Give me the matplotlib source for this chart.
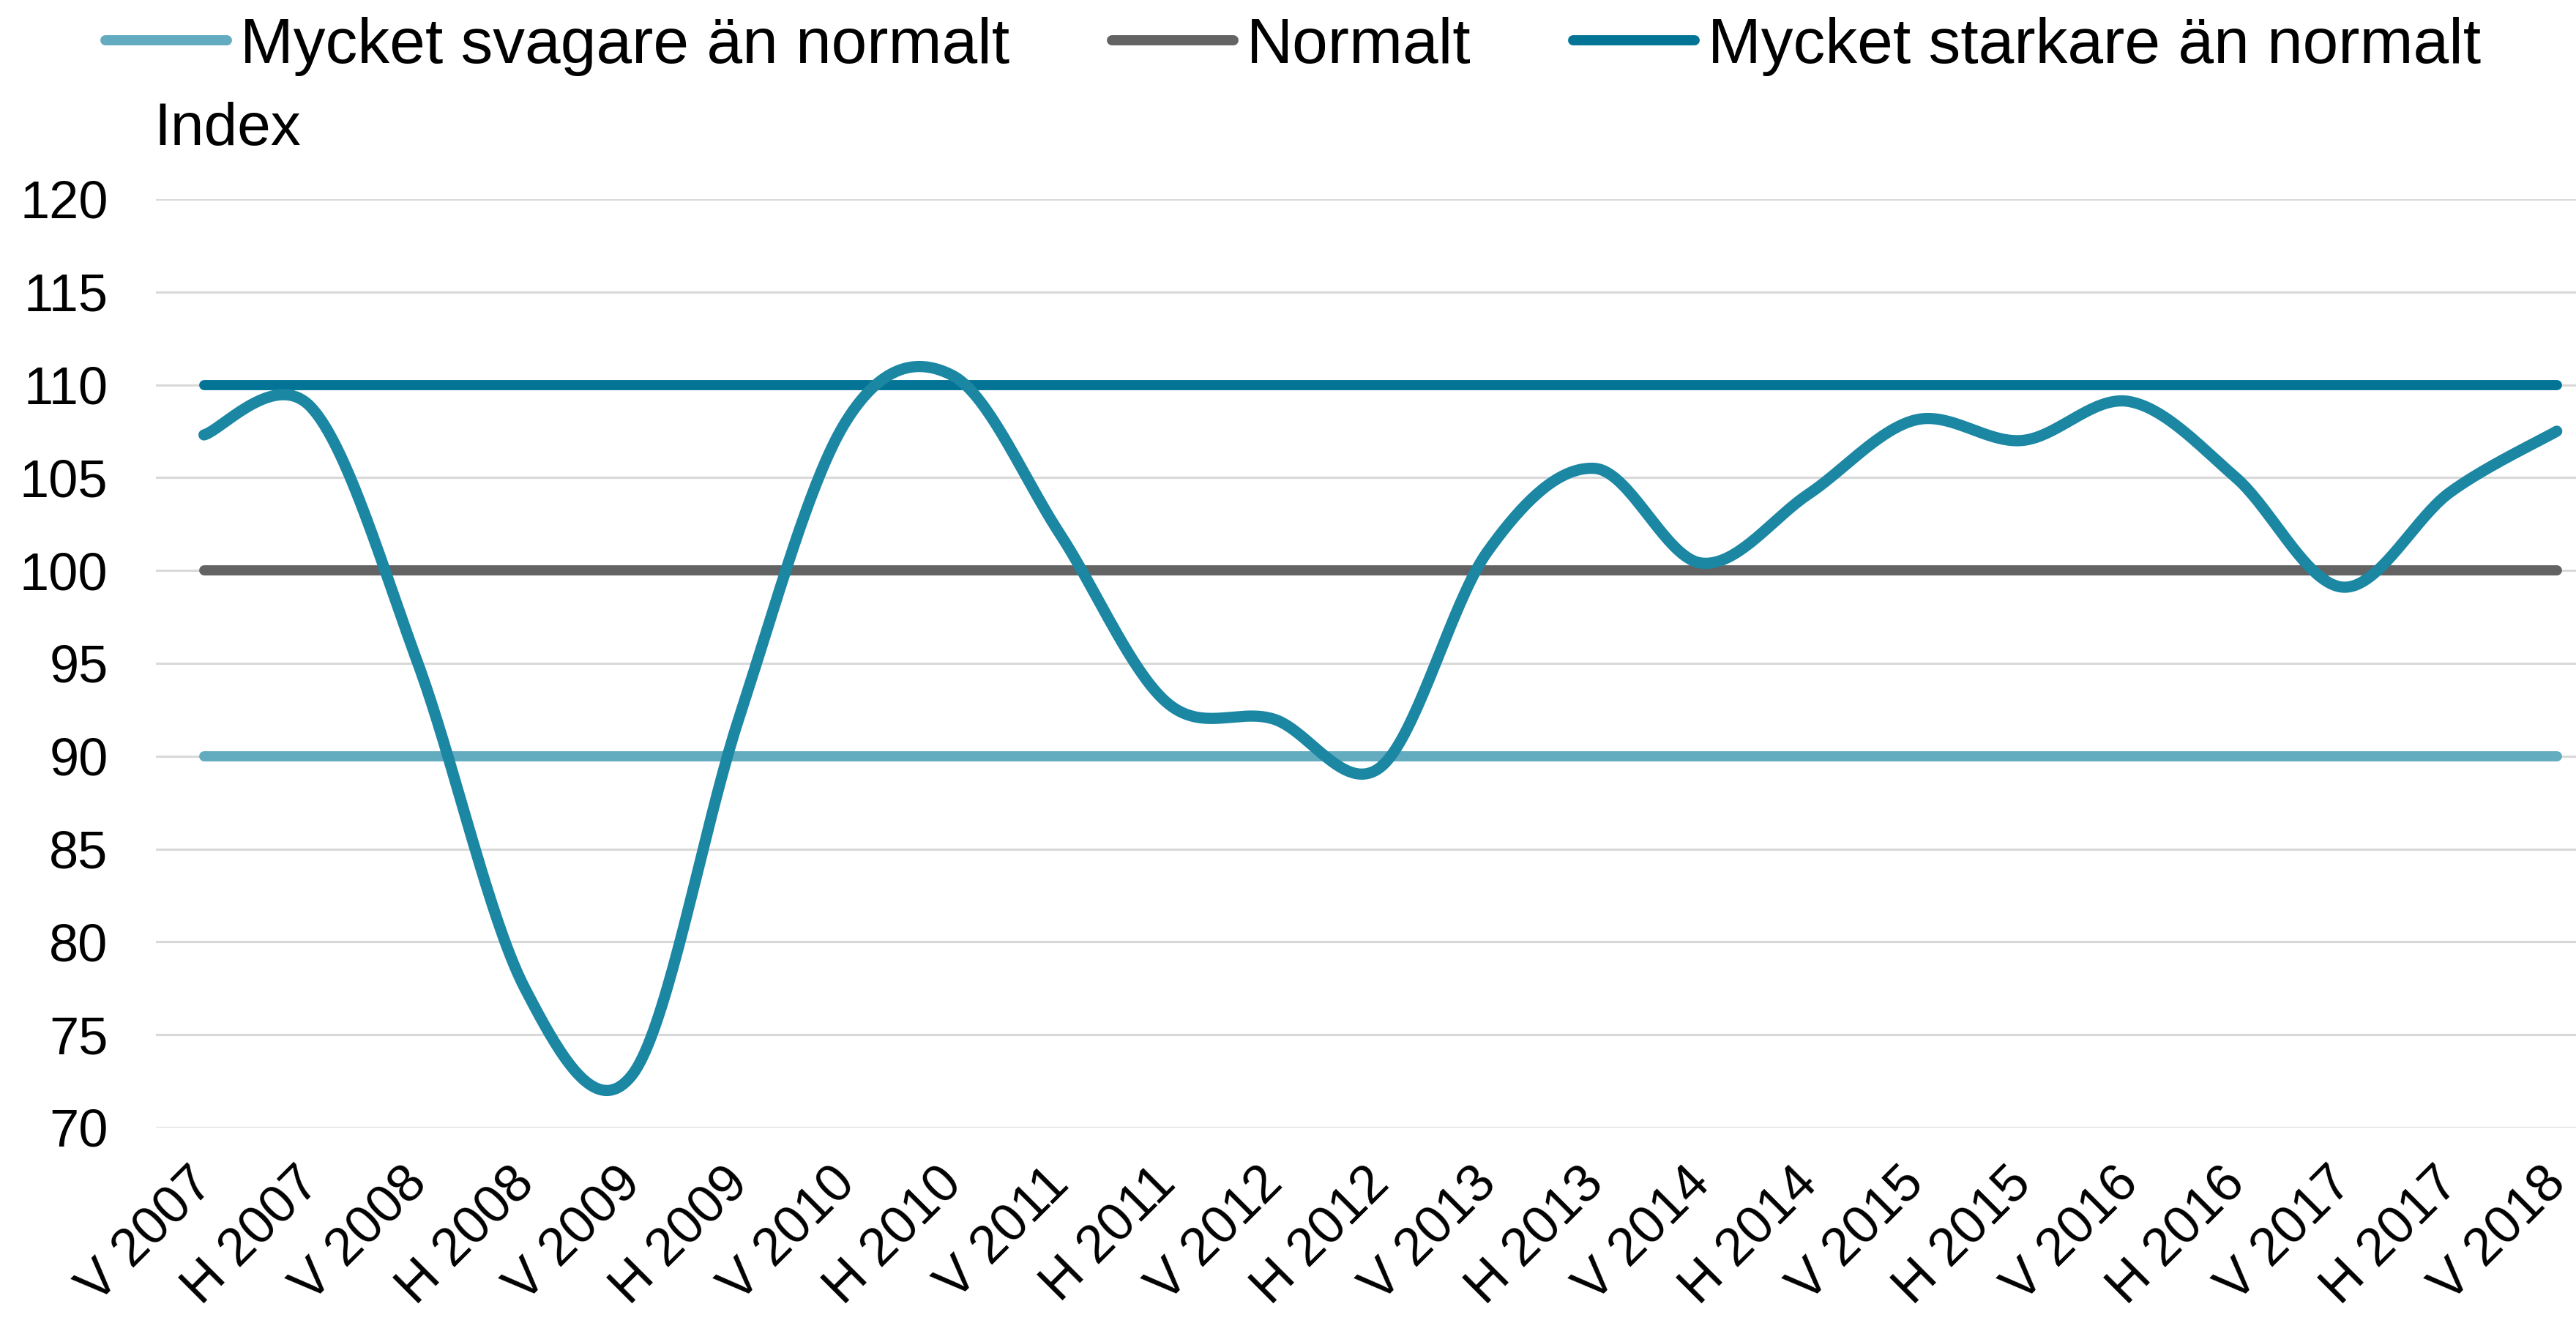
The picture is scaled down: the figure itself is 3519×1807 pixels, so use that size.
import matplotlib
matplotlib.use("Agg")
import matplotlib.pyplot as plt
import matplotlib.transforms as mtransforms
import numpy as np

plt.rcParams['font.family'] = ['Liberation Sans', 'DejaVu Sans']

# halvår V = vår, H = höst
perioder = ['V 2007', 'H 2007', 'V 2008', 'H 2008', 'V 2009', 'H 2009',
            'V 2010', 'H 2010', 'V 2011', 'H 2011', 'V 2012', 'H 2012',
            'V 2013', 'H 2013', 'V 2014', 'H 2014', 'V 2015', 'H 2015',
            'V 2016', 'H 2016', 'V 2017', 'H 2017', 'V 2018']
index_varden = [107.3, 108.8, 95.0, 77.5, 72.8, 92.0, 108.0, 110.5, 102.0,
                92.9, 92.0, 89.4, 101.0, 105.5, 100.4, 104.1, 108.1, 107.0,
                109.1, 105.0, 99.1, 104.2, 107.5]
svagare = 90
normalt = 100
starkare = 110
y_ticks = [70, 75, 80, 85, 90, 95, 100, 105, 110, 115, 120]


def smooth(xs, ys, n=40):
    # bezier-utjämning liknande Excels "utjämnad linje"
    pts = np.column_stack([xs, ys]).astype(float)
    p = np.vstack([pts[0], pts, pts[-1]])
    out = []
    t = np.linspace(0, 1, n)[:, None]
    for i in range(1, len(p) - 2):
        p0, p1, p2, p3 = p[i - 1], p[i], p[i + 1], p[i + 2]
        c1 = p1 + (p2 - p0) / 6
        c2 = p2 - (p3 - p1) / 6
        seg = ((1 - t) ** 3) * p1 + 3 * ((1 - t) ** 2) * t * c1 + 3 * (1 - t) * t ** 2 * c2 + t ** 3 * p2
        out.append(seg if i == 1 else seg[1:])
    out = np.vstack(out)
    return out[:, 0], out[:, 1]


fig = plt.figure(figsize=(35.19, 18.07), dpi=100)
ax = fig.add_axes([0.0605, 0.1478, 0.9395, 0.7017])

x = np.arange(len(perioder))
n = len(perioder)

l1, = ax.plot(x, [svagare] * n, color='#63abbf', lw=10, solid_capstyle='round',
              label='Mycket svagare än normalt', zorder=3)
l2, = ax.plot(x, [normalt] * n, color='#636363', lw=10, solid_capstyle='round',
              label='Normalt', zorder=3)
l3, = ax.plot(x, [starkare] * n, color='#037496', lw=10, solid_capstyle='round',
              label='Mycket starkare än normalt', zorder=3)

sx, sy = smooth(x, index_varden)
ax.plot(sx, sy, color='#1b87a3', lw=11, solid_capstyle='round', zorder=4)

ax.set_ylim(70, 120)
ax.set_xlim(-0.45, 22.18)
ax.set_yticks(y_ticks)
ax.set_xticks(x)
ax.set_xticklabels(perioder, rotation=45, ha='right', va='baseline',
                   rotation_mode='anchor', fontsize=52)
ax.tick_params(axis='y', labelsize=52, length=0, pad=47)
ax.tick_params(axis='x', length=0, pad=57)
offset = mtransforms.ScaledTranslation(0.15, 0, fig.dpi_scale_trans)
for lab in ax.get_xticklabels():
    lab.set_transform(lab.get_transform() + offset)
ax.yaxis.grid(True, color='#d9d9d9', lw=2.2)
ax.set_axisbelow(True)
for s in ax.spines.values():
    s.set_visible(False)

fig.text(0.0597, 1 - 198 / 1807, 'Index', fontsize=59, va='baseline', ha='left')

fig.legend(handles=[l1, l2, l3], loc='center', bbox_to_anchor=(0.502, 0.965),
           ncol=3, frameon=False, fontsize=63, handlelength=1.9,
           handletextpad=0.2, columnspacing=1.6)

fig.savefig('out.png', dpi=100)
